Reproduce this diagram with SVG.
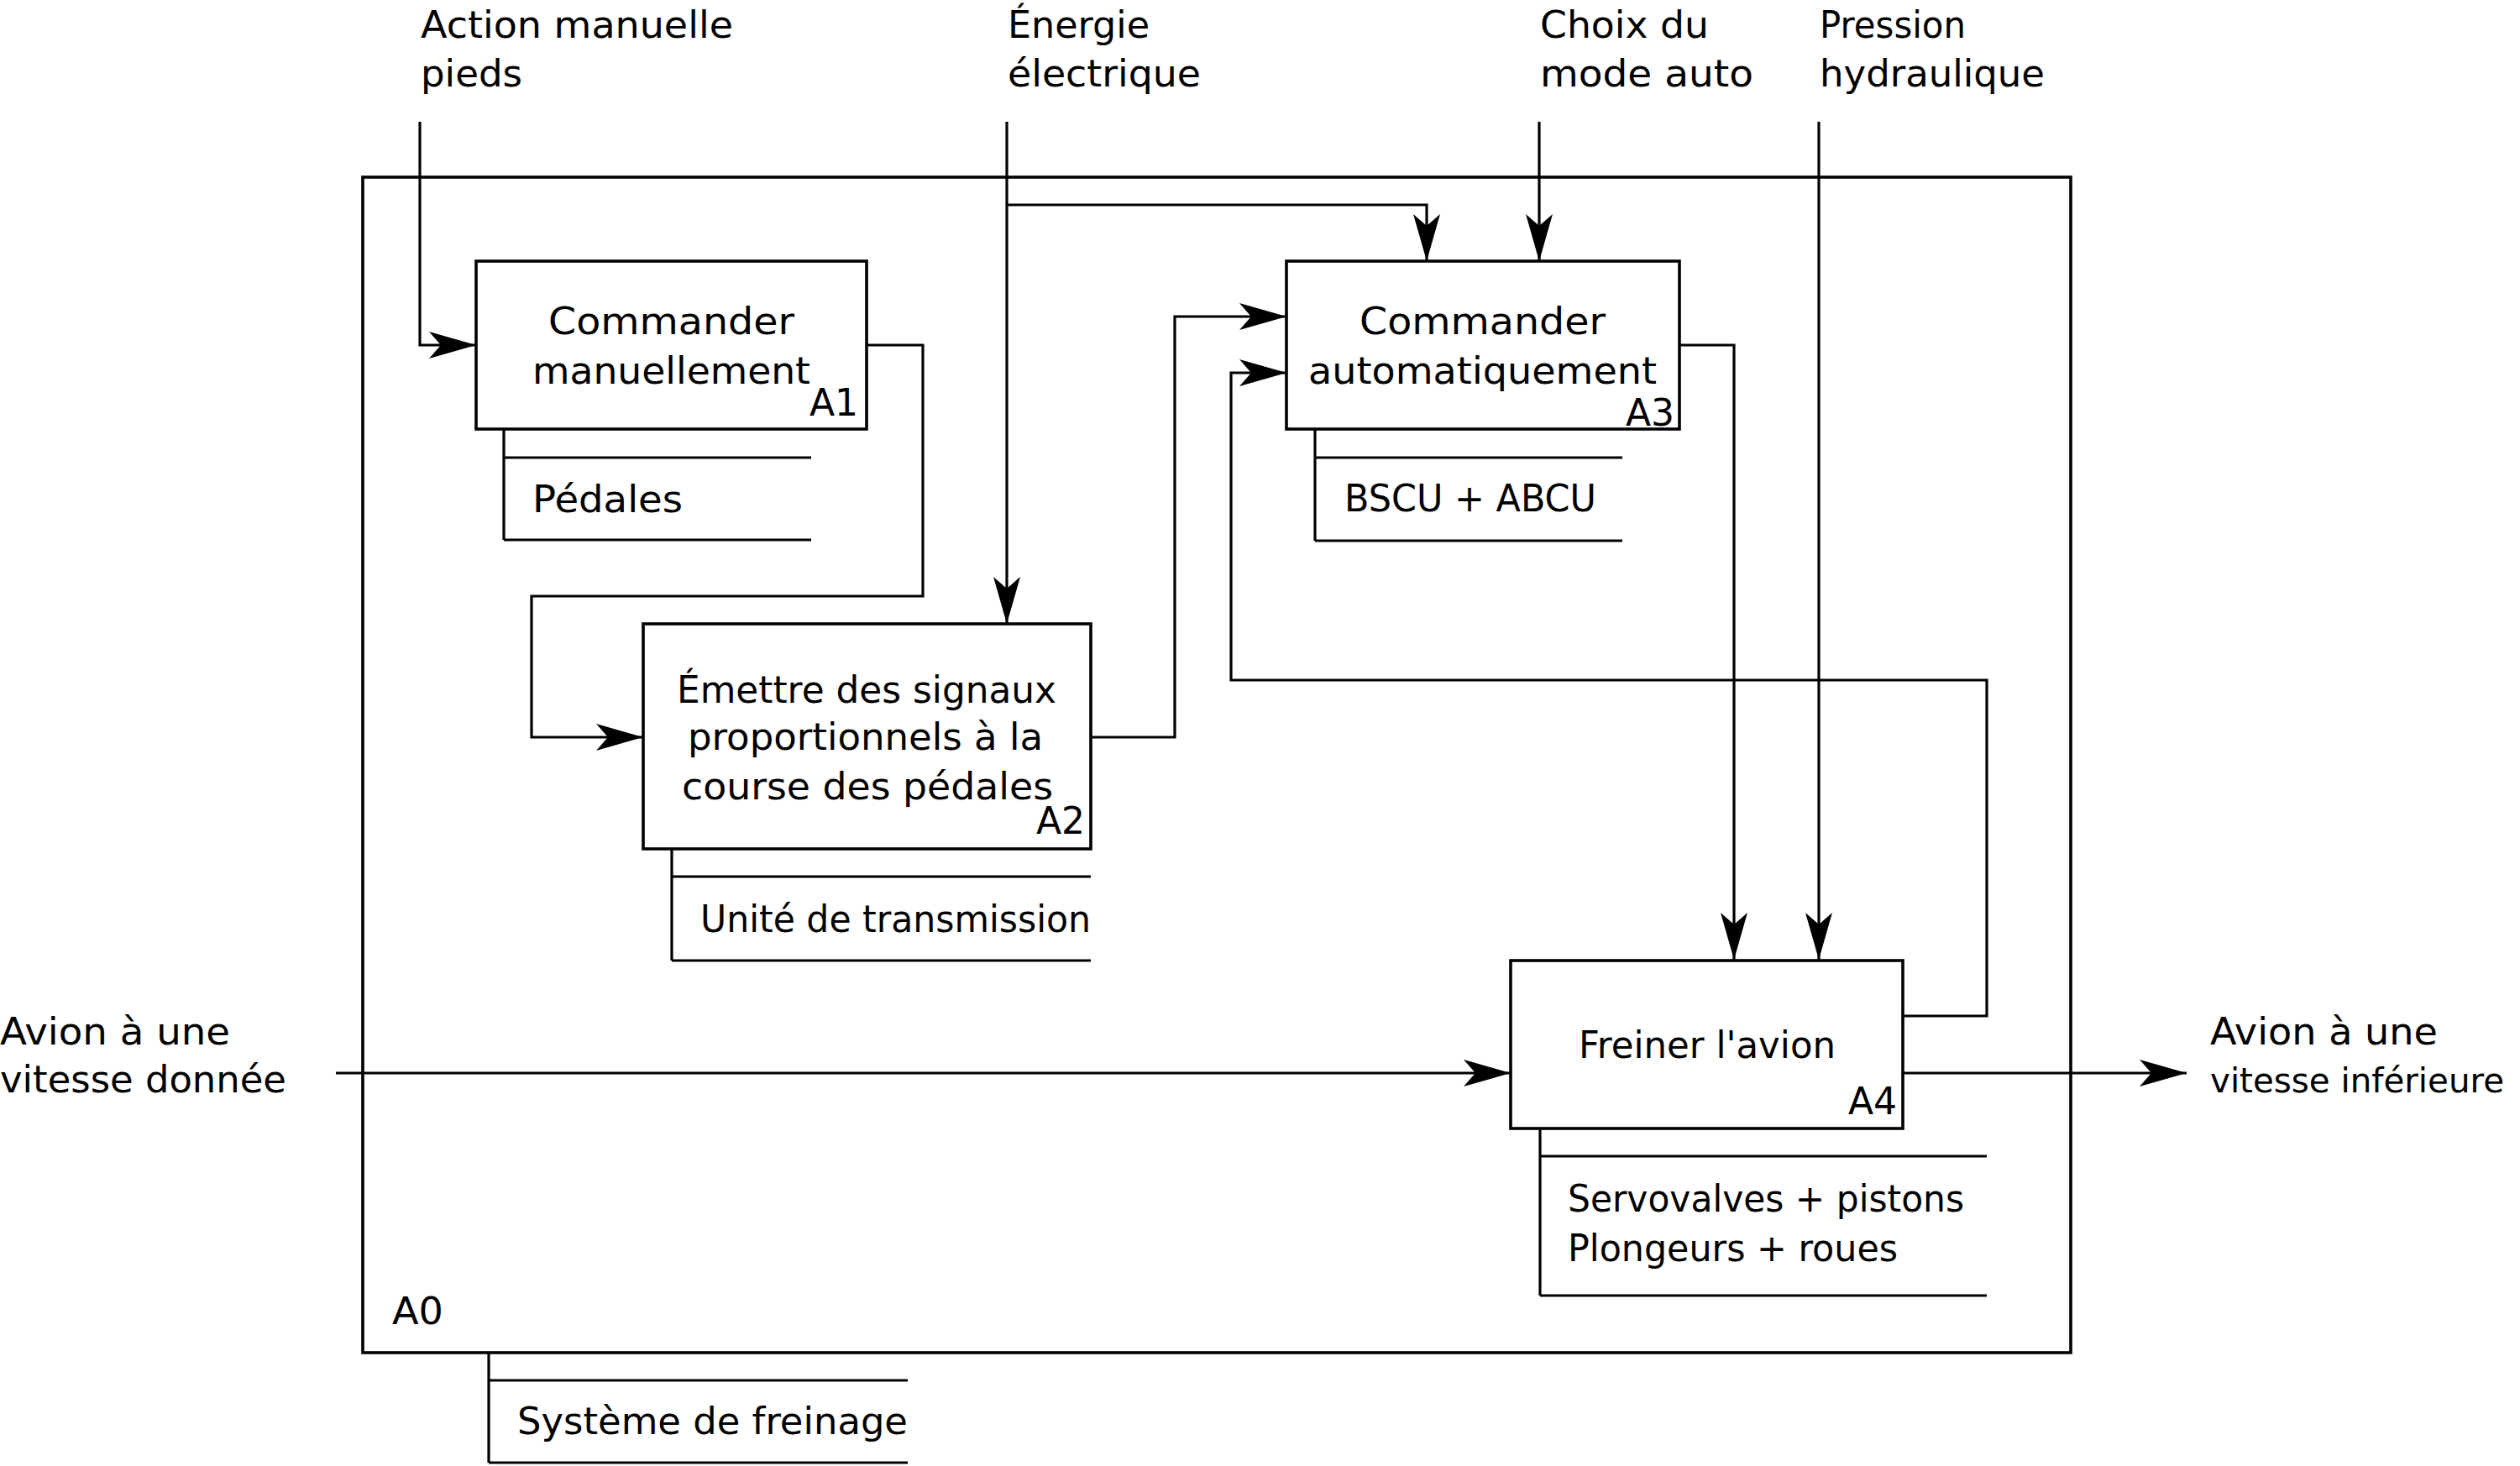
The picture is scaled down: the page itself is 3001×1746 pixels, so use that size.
<svg xmlns="http://www.w3.org/2000/svg" width="3001" height="1746" viewBox="0 0 3001 1746">
<style>
.ln{fill:none;stroke:#000;stroke-width:3.2;stroke-linejoin:miter}
.bx{fill:#fff;stroke:#000;stroke-width:3.6}
text{font-family:"DejaVu Sans","Liberation Sans",sans-serif;font-size:44px;fill:#000}
.ar{marker-end:url(#ah)}
</style>
<defs>
<marker id="ah" markerUnits="userSpaceOnUse" viewBox="-60 -20 62 40" refX="0" refY="0" markerWidth="62" markerHeight="40" orient="auto">
<path d="M0,0 L-56,-16 L-42,0 L-56,16 Z" fill="#000"/>
</marker>
</defs>
<rect width="3001" height="1746" fill="#fff"/>

<g id="A0">
<rect x="432" y="211" width="2034" height="1400" class="bx" style="fill:none"/>
<text x="467" y="1577" textLength="61" lengthAdjust="spacingAndGlyphs">A0</text>
<path class="ln" d="M582,1611 V1742 M582,1644 H1081 M582,1742 H1081"/>
<text x="616" y="1708" textLength="465" lengthAdjust="spacingAndGlyphs">Système de freinage</text>
</g>

<g id="connectors">
<path class="ln ar" d="M500,145 V411 H567"/>
<path class="ln ar" d="M1032,411 H1099 V710 H633 V878 H766"/>
<path class="ln ar" d="M1199,145 V743"/>
<path class="ln ar" d="M1199,244 H1699 V311"/>
<path class="ln ar" d="M1833,145 V311"/>
<path class="ln ar" d="M1299,878 H1399 V377 H1532"/>
<path class="ln ar" d="M2000,411 H2065 V1143"/>
<path class="ln ar" d="M2166,145 V1143"/>
<path class="ln ar" d="M2266,1210 H2366 V810 H1466 V444 H1532"/>
<path class="ln ar" d="M400,1278 H1799"/>
<path class="ln ar" d="M2266,1278 H2604"/>
</g>

<g id="labels">
<text x="501" y="45" textLength="372" lengthAdjust="spacingAndGlyphs">Action manuelle</text>
<text x="501" y="103" textLength="121" lengthAdjust="spacingAndGlyphs">pieds</text>
<text x="1200" y="45" textLength="169" lengthAdjust="spacingAndGlyphs">Énergie</text>
<text x="1200" y="103" textLength="230" lengthAdjust="spacingAndGlyphs">électrique</text>
<text x="1834" y="45" textLength="201" lengthAdjust="spacingAndGlyphs">Choix du</text>
<text x="1834" y="103" textLength="254" lengthAdjust="spacingAndGlyphs">mode auto</text>
<text x="2167" y="45" textLength="174" lengthAdjust="spacingAndGlyphs">Pression</text>
<text x="2167" y="103" textLength="268" lengthAdjust="spacingAndGlyphs">hydraulique</text>
<text x="0" y="1244" textLength="274" lengthAdjust="spacingAndGlyphs">Avion à une</text>
<text x="0" y="1301" textLength="341" lengthAdjust="spacingAndGlyphs">vitesse donnée</text>
<text x="2632" y="1244" textLength="271" lengthAdjust="spacingAndGlyphs">Avion à une</text>
<text x="2632" y="1301" textLength="350" lengthAdjust="spacingAndGlyphs" style="font-size:41px">vitesse inférieure</text>
</g>

<g id="A1">
<rect x="567" y="311" width="465" height="200" class="bx"/>
<text x="653" y="398" textLength="293" lengthAdjust="spacingAndGlyphs">Commander</text>
<text x="634" y="457" textLength="331" lengthAdjust="spacingAndGlyphs">manuellement</text>
<text x="1022" y="495" text-anchor="end">A1</text>
<path class="ln" d="M600,511 V643 M600,545 H966 M600,643 H966"/>
<text x="634" y="610" textLength="179" lengthAdjust="spacingAndGlyphs">Pédales</text>
</g>

<g id="A2">
<rect x="766" y="743" width="533" height="268" class="bx"/>
<text x="806" y="837" textLength="452" lengthAdjust="spacingAndGlyphs">Émettre des signaux</text>
<text x="819" y="893" textLength="423" lengthAdjust="spacingAndGlyphs">proportionnels à la</text>
<text x="812" y="952" textLength="442" lengthAdjust="spacingAndGlyphs">course des pédales</text>
<text x="1292" y="993" text-anchor="end">A2</text>
<path class="ln" d="M800,1011 V1144 M800,1044 H1299 M800,1144 H1299"/>
<text x="834" y="1110" textLength="465" lengthAdjust="spacingAndGlyphs">Unité de transmission</text>
</g>

<g id="A3">
<rect x="1532" y="311" width="468" height="200" class="bx"/>
<text x="1619" y="398" textLength="293" lengthAdjust="spacingAndGlyphs">Commander</text>
<text x="1558" y="457" textLength="415" lengthAdjust="spacingAndGlyphs">automatiquement</text>
<text x="1994" y="507" text-anchor="end">A3</text>
<path class="ln" d="M1566,511 V644 M1566,545 H1932 M1566,644 H1932"/>
<text x="1601" y="609" textLength="300" lengthAdjust="spacingAndGlyphs">BSCU + ABCU</text>
</g>

<g id="A4">
<rect x="1799" y="1144" width="467" height="200" class="bx"/>
<text x="1880" y="1260" textLength="306" lengthAdjust="spacingAndGlyphs">Freiner l'avion</text>
<text x="2259" y="1327" text-anchor="end">A4</text>
<path class="ln" d="M1834,1344 V1543 M1834,1377 H2366 M1834,1543 H2366"/>
<text x="1867" y="1443" textLength="472" lengthAdjust="spacingAndGlyphs">Servovalves + pistons</text>
<text x="1867" y="1502" textLength="393" lengthAdjust="spacingAndGlyphs">Plongeurs + roues</text>
</g>
</svg>
